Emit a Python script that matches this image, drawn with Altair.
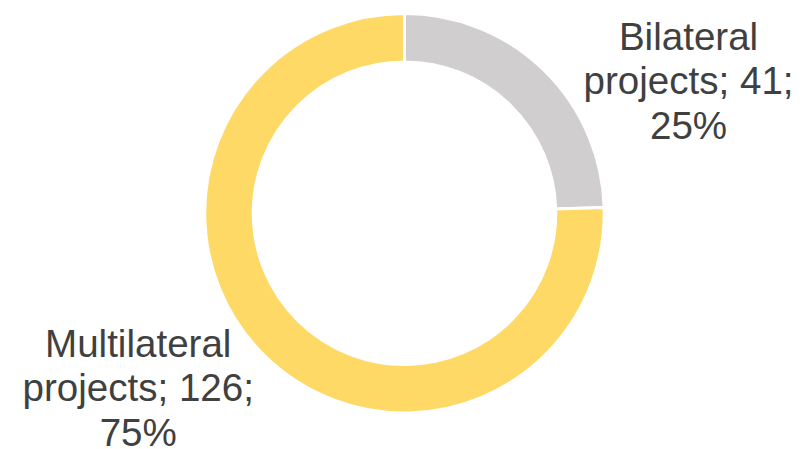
import altair as alt
import pandas as pd

categories = ["Bilateral projects", "Multilateral projects"]
counts = [41, 126]
percents = ["25%", "75%"]
colors = ["#D0CECE", "#FFD966"]

df = pd.DataFrame({
    "category": categories,
    "count": counts,
    "order": list(range(len(categories))),
})
df["label"] = [
    f"{c.split()[0]}\nprojects; {n};\n{p}" for c, n, p in zip(categories, counts, percents)
]

arc = alt.Chart(df).mark_arc(outerRadius=202, innerRadius=153, stroke="white", strokeWidth=3).encode(
    theta=alt.Theta("count:Q", stack=True),
    order=alt.Order("order:Q"),
    color=alt.Color("category:N", scale=alt.Scale(domain=categories, range=colors), legend=None),
)

text_style = dict(font="Liberation Sans", fontSize=39, color="#404040",
                  lineBreak="\n", lineHeight=45, align="center", baseline="middle")

text_base = alt.Chart(df).transform_window(
    cum="sum(count)", sort=[alt.SortField("order")]
).transform_calculate(
    mid="datum.cum - datum.count / 2"
)


def label_layer(cat, dx, dy):
    return text_base.transform_filter(alt.datum.category == cat).mark_text(
        radius=240, dx=dx, dy=dy, **text_style
    ).encode(
        theta=alt.Theta("mid:Q", stack=None),
        text="label:N",
    )


t1 = label_layer(categories[0], 120, -5)
t2 = label_layer(categories[1], -102, -39)

chart = alt.layer(arc, t1, t2).properties(
    width=794, height=410,
    autosize=alt.AutoSizeParams(type="none"),
    padding={"left": 4, "top": 0, "right": 0, "bottom": 31},
).configure_view(stroke=None)

chart.save("out.html", embed_options={"renderer": "svg", "actions": False})
